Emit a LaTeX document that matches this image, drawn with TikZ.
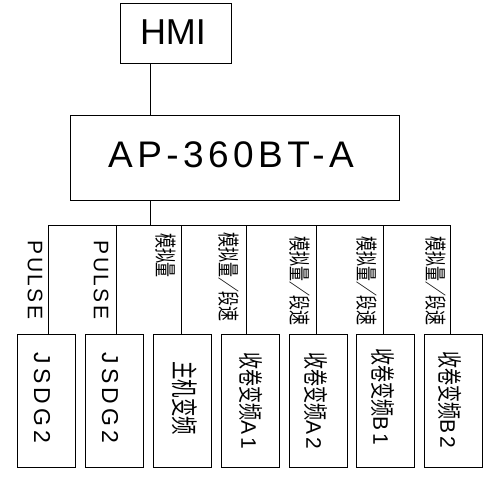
\documentclass[tikz,border=0pt]{standalone}
\usepackage{fontspec}
\setmainfont{Liberation Sans}
\newfontfamily\cjk{Noto Sans CJK SC}
\newfontfamily\lsA[LetterSpace=12]{Liberation Sans}
\newfontfamily\lsB[LetterSpace=18]{Liberation Sans}
\newcommand\cjkt[3]{\scalebox{#1}[1]{\cjk\fontsize{#2}{#2}\selectfont #3}}
\begin{document}
\begin{tikzpicture}[x=1pt,y=-1pt,
  box/.style={draw,line width=0.8pt,inner sep=0pt},
  small/.style={box,minimum width=58pt,minimum height=133pt},
  vlab/.style={rotate=-90,inner sep=0pt},
  conn/.style={line width=0.8pt}]
\fill[white] (0,0) rectangle (499,477);
\useasboundingbox (0,0) rectangle (499,477);
% top boxes
\node[box,minimum width=111pt,minimum height=60pt] (hmi) at (175.5,33) {};
\node[inner sep=0pt] (hmit) at (173,32) {\fontsize{36}{36}\selectfont HMI};
\node[box,minimum width=329pt,minimum height=85pt] (ap) at (234.5,157.5) {};
\node[inner sep=0pt] (apt) at (231,155) {\lsA\fontsize{37}{37}\selectfont AP-360BT-A};
% bottom boxes
\node[small] (b1) at (46,400.5) {};
\node[small] (b2) at (114,400.5) {};
\node[small] (b3) at (182,400.5) {};
\node[small] (b4) at (250,400.5) {};
\node[small] (b5) at (318,400.5) {};
\node[small] (b6) at (385.5,400.5) {};
\node[small] (b7) at (453,400.5) {};
% box texts
\node[vlab] (t1) at (42,398) {\lsB\fontsize{23}{23}\selectfont JSDG2};
\node[vlab] (t2) at (110,398) {\lsB\fontsize{23}{23}\selectfont JSDG2};
\node[vlab] (t3) at (185,398) {\cjkt{0.68}{27}{主机变频}};
\node[vlab] (t4) at (251,401) {\cjkt{0.68}{25}{收卷变频}{\lsA\fontsize{21}{21}\selectfont A1}};
\node[vlab] (t5) at (316,401) {\cjkt{0.68}{25}{收卷变频}{\lsA\fontsize{21}{21}\selectfont A2}};
\node[vlab] (t6) at (383,397) {\cjkt{0.68}{25}{收卷变频}{\lsA\fontsize{21}{21}\selectfont B1}};
\node[vlab] (t7) at (450,400) {\cjkt{0.68}{25}{收卷变频}{\lsA\fontsize{21}{21}\selectfont B2}};
% connectors
\coordinate (t) at (150,0);
\coordinate (bus) at (150,225);
\draw[conn] (hmi.south -| t) -- (ap.north -| t);
\draw[conn] (ap.south -| t) -- (bus);
\coordinate (d1) at (48,225);
\coordinate (d2) at (116,225);
\coordinate (d3) at (181,225);
\coordinate (d4) at (246,225);
\coordinate (d5) at (316,225);
\coordinate (d6) at (383,225);
\coordinate (d7) at (450,225);
\draw[conn] (d1) -- (d7);
\foreach \i in {1,...,7} {\draw[conn] (d\i) -- (d\i |- b\i.north);}
% line labels
\node[vlab] (l1) at (35,280) {\lsA\fontsize{21}{21}\selectfont PULSE};
\node[vlab] (l2) at (101,280) {\lsA\fontsize{21}{21}\selectfont PULSE};
\node[vlab] (l3) at (166,255.5) {\cjkt{0.68}{22}{模拟量}};
\node[vlab] (l4) at (229,277) {\cjkt{0.68}{22}{模拟量／段速}};
\node[vlab] (l5) at (300,281) {\cjkt{0.68}{22}{模拟量／段速}};
\node[vlab] (l6) at (367,281) {\cjkt{0.68}{22}{模拟量／段速}};
\node[vlab] (l7) at (436,281) {\cjkt{0.68}{22}{模拟量／段速}};
\end{tikzpicture}
\end{document}
